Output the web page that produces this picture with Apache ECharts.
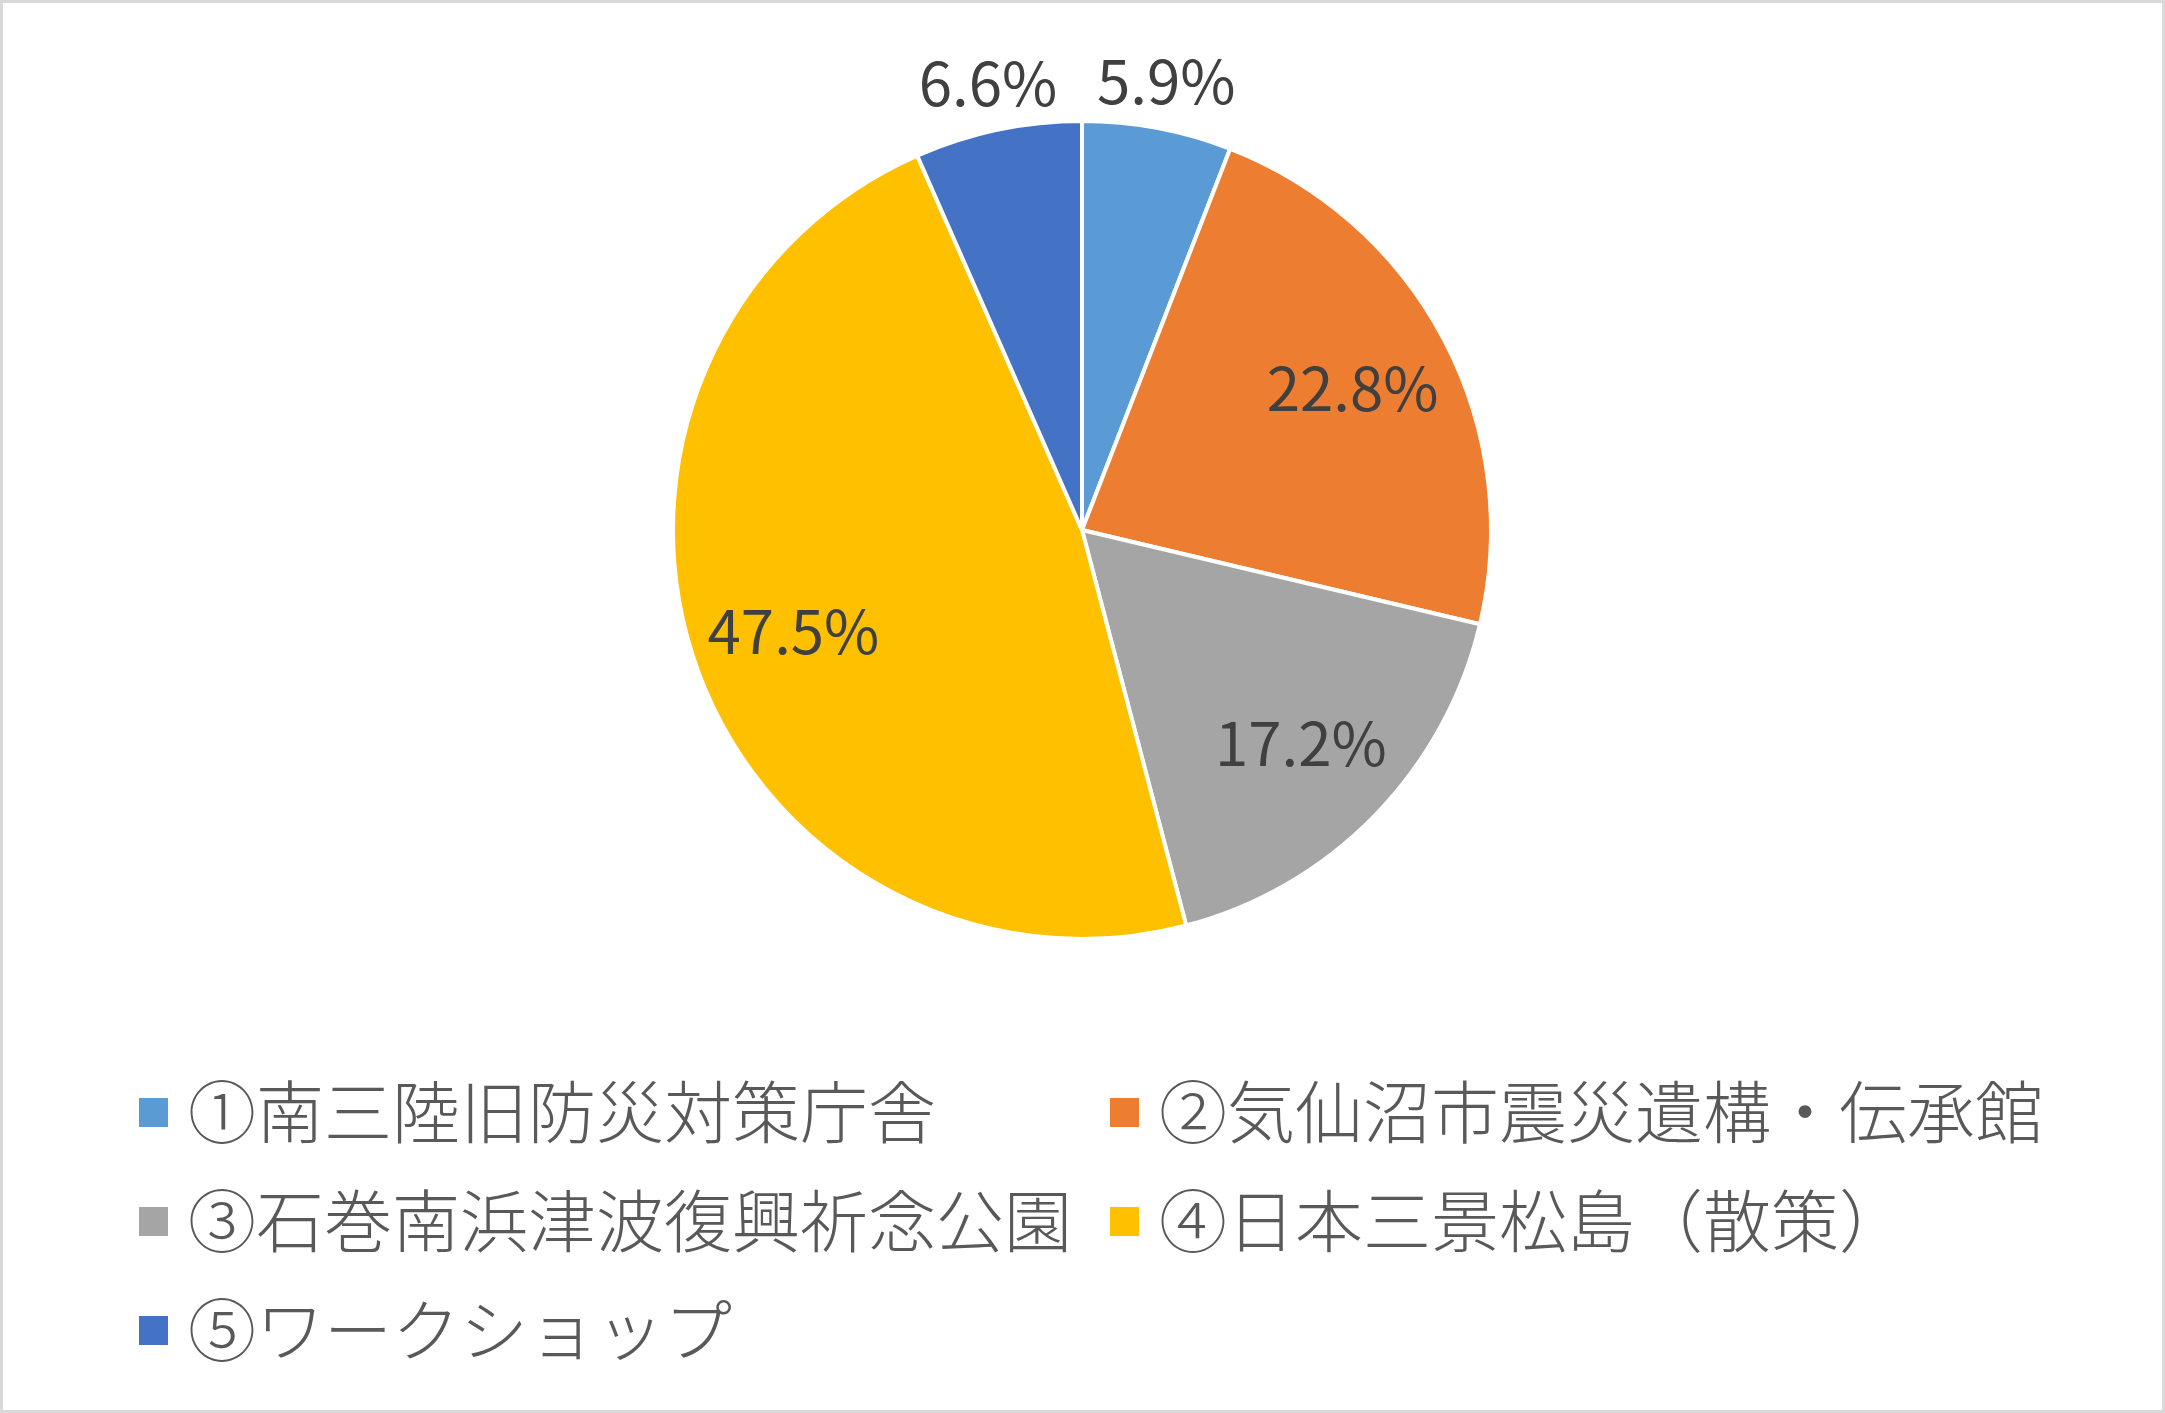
<!DOCTYPE html>
<html lang="ja">

<head>
	<meta charset="UTF-8">
	<title>Pie</title>
	<style>
		html, body { margin: 0; padding: 0; background: #fff; }
		#main { width: 2165px; height: 1413px; box-sizing: border-box; border: 3px solid #d9d9d9; }
	</style>
</head>

<body>
	<div id="main"></div>
	<script src="https://cdn.jsdelivr.net/npm/echarts@6/dist/echarts.min.js"></script>
	<script>
		// 各項目と割合(%)
		var names = ['①南三陸旧防災対策庁舎', '②気仙沼市震災遺構・伝承館', '③石巻南浜津波復興祈念公園', '④日本三景松島（散策）', '⑤ワークショップ'];
		var values = [5.9, 22.8, 17.2, 47.5, 6.6];
		var colors = ['#5B9BD5', '#ED7D31', '#A5A5A5', '#FFC000', '#4472C4'];
		// ラベルを外側に出す項目
		var outerLabel = [true, false, false, false, true];

		var font = '"Noto Sans CJK JP", "Noto Sans", sans-serif';
		var center = [1079, 527];
		var r = 409;

		var myChart = echarts.init(document.getElementById('main'));

		function seriesData(showFn) {
			return names.map(function (n, i) {
				return {
					name: n,
					value: values[i],
					label: { show: showFn(i) }
				};
			});
		}

		var labelStyle = {
			position: 'inside',
			formatter: '{c}%',
			color: '#404040',
			fontSize: 60,
			fontFamily: font
		};

		option = {
			color: colors,
			animation: false,
			legend: {
				data: names,
				left: 129,
				top: 1060,
				width: 1980,
				itemWidth: 31,
				itemHeight: 31,
				itemGap: 20,
				icon: 'rect',
				selectedMode: false,
				textStyle: {
					color: '#595959',
					fontSize: 68,
					fontWeight: 300,
					fontFamily: font,
					lineHeight: 89,
					width: 900,
					padding: [0, 0, 0, 14]
				}
			},
			series: [{
				// 本体
				type: 'pie',
				center: center,
				radius: r,
				startAngle: 90,
				label: { show: false },
				labelLine: { show: false },
				itemStyle: { borderColor: '#fff', borderWidth: 4 },
				emphasis: { disabled: true },
				data: names.map(function (n, i) { return { name: n, value: values[i] }; })
			}, {
				// 内側ラベル用（透明）
				type: 'pie',
				center: center,
				radius: r * 1.48,
				startAngle: 90,
				silent: true,
				z: 3,
				itemStyle: { color: 'rgba(0,0,0,0)' },
				label: labelStyle,
				labelLine: { show: false },
				emphasis: { disabled: true },
				data: seriesData(function (i) { return !outerLabel[i]; })
			}, {
				// 外側ラベル用（透明）
				type: 'pie',
				center: center,
				radius: r * 2.22,
				startAngle: 90,
				silent: true,
				z: 3,
				itemStyle: { color: 'rgba(0,0,0,0)' },
				label: labelStyle,
				labelLine: { show: false },
				emphasis: { disabled: true },
				data: seriesData(function (i) { return outerLabel[i]; })
			}]
		};

		myChart.setOption(option);
	</script>
</body>

</html>
